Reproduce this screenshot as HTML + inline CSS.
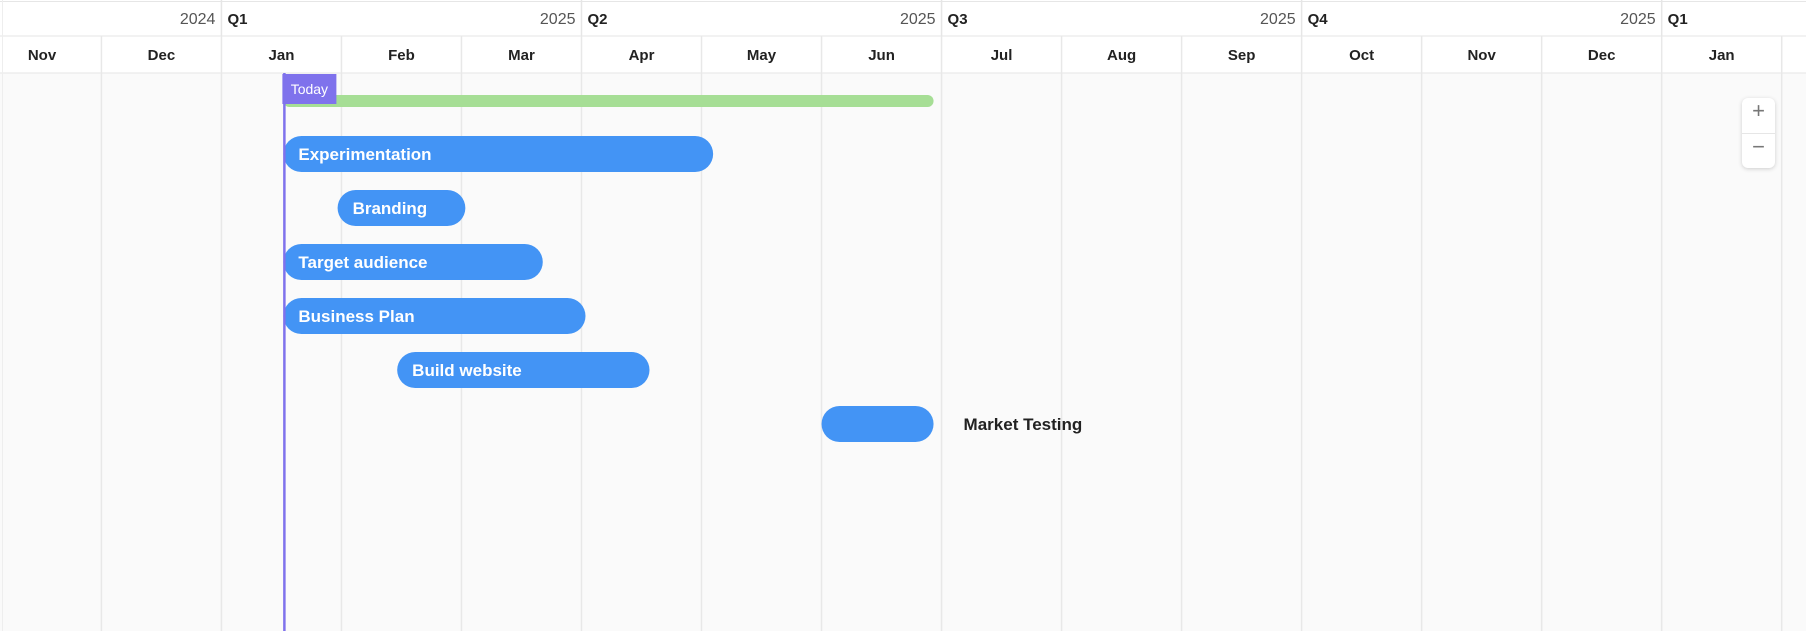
<!DOCTYPE html>
<html><head><meta charset="utf-8"><style>
html,body{margin:0;padding:0;background:#fff;}
svg{display:block;font-family:"Segoe UI","Liberation Sans",sans-serif;}
.zoombox{position:absolute;left:1742px;top:98px;width:33px;height:70px;background:#fff;border-radius:6px;box-shadow:0 1px 4px rgba(0,0,0,0.18);}
.zb{height:35px;line-height:37px;text-align:center;color:#777;font:22px "Liberation Sans",sans-serif;cursor:pointer;}
</style></head><body>
<div style="position:relative;width:1806px;height:631px;overflow:hidden">
<svg id="g" width="1806" height="631"></svg>
<div class="zoombox">
<div class="zb" style="border-bottom:1px solid #e6e6e6">+</div>
<div class="zb">−</div>
</div>
</div>
<script>
const months = ["Nov","Dec","Jan","Feb","Mar","Apr","May","Jun","Jul","Aug","Sep","Oct","Nov","Dec","Jan","Feb"];
const monthYears = [2024,2024,2025,2025,2025,2025,2025,2025,2025,2025,2025,2025,2025,2025,2026,2026];
const quarterLabels = ["Q1","Q2","Q3","Q4","Q1"];
const quarterStartIdx = [2,5,8,11,14];
const quarterYearLabels = ["2024","2025","2025","2025","2025"];
const taskNames = ["Experimentation","Branding","Target audience","Business Plan","Build website","Market Testing"];
const taskStarts = ["2025-01-17","2025-01-31","2025-01-17","2025-01-17","2025-02-14","2025-06-01"];
const taskEnds = ["2025-05-04","2025-03-02","2025-03-22","2025-04-02","2025-04-18","2025-06-29"];
const summaryStart = "2025-01-17";
const summaryEnd = "2025-06-29";
const todayDate = "2025-01-17";

const X0=-18.6, MW=120.02, H1=36, H2=73, ROW0=136, ROWH=54, BH=36;
const svg=document.getElementById('g'), NS="http://www.w3.org/2000/svg";
function mk(t,a,p){const e=document.createElementNS(NS,t);for(const k in a)e.setAttribute(k,a[k]);(p||svg).appendChild(e);return e;}
function x(ds){const [y,m,d]=ds.split('-').map(Number);const idx=(y-2024)*12+(m-1)-10;const dim=new Date(y,m,0).getDate();return X0+(idx+(d-1)/dim)*MW;}
function mx(i){return X0+i*MW;}

let e=mk('rect',{x:0,y:H2,width:1806,height:631-H2,fill:'#fafafa'});

mk('line',{x1:0,y1:1.5,x2:1806,y2:1.5,stroke:'#e6e6e6'});
mk('line',{x1:0,y1:H1,x2:1806,y2:H1,stroke:'#e6e6e6'});
mk('line',{x1:0,y1:H2,x2:1806,y2:H2,stroke:'#e6e6e6'});
mk('line',{x1:2.5,y1:0,x2:2.5,y2:631,stroke:'#eee'});
months.forEach((m,i)=>{
  const l=mk('line',{x1:mx(i+1),y1:H1,x2:mx(i+1),y2:631,stroke:'#e8e8e8','stroke-width':1.5});
  
  const cx=Math.max(mx(i)+MW/2, i===0?42:0);
  const t=mk('text',{x:cx,y:60,'text-anchor':'middle','font-size':15,'font-weight':600,fill:'#222'});
  t.textContent=m;
  
});
quarterLabels.forEach((q,i)=>{
  const bx=mx(quarterStartIdx[i]);
  mk('line',{x1:bx,y1:0,x2:bx,y2:H1,stroke:'#e6e6e6','stroke-width':1.5});
  const t=mk('text',{x:bx+6,y:24,'font-size':15,'font-weight':600,fill:'#222'});t.textContent=q;
  
  const y=mk('text',{x:bx-6,y:24,'text-anchor':'end','font-size':16,fill:'#555'});y.textContent=quarterYearLabels[i];
  
});
const sb=mk('rect',{x:x(summaryStart),y:95,width:x(summaryEnd)-x(summaryStart),height:12,rx:6,fill:'#a6de95'});

taskNames.forEach((n,i)=>{
  const x1=x(taskStarts[i]),x2=x(taskEnds[i]),y=ROW0+i*ROWH;
  const r=mk('rect',{x:x1,y:y,width:x2-x1,height:BH,rx:18,fill:'#4394f5'});
  
  const w=x2-x1;
  const inside = w>120;
  const t=mk('text',{x:inside?x1+15:x2+30,y:y+24,'font-size':17,'font-weight':600,fill:inside?'#fff':'#222'});
  t.textContent=n;
  
});
const tx=x(todayDate);
const tl=mk('line',{x1:tx+1,y1:H2,x2:tx+1,y2:631,stroke:'#7f72ec','stroke-width':2.5});

const tb=mk('rect',{x:tx-1,y:74,width:54,height:30,fill:'#7f72ec'});

const tt=mk('text',{x:tx+26,y:94,'text-anchor':'middle','font-size':14,fill:'#fff'});tt.textContent='Today';

</script>
</body></html>
